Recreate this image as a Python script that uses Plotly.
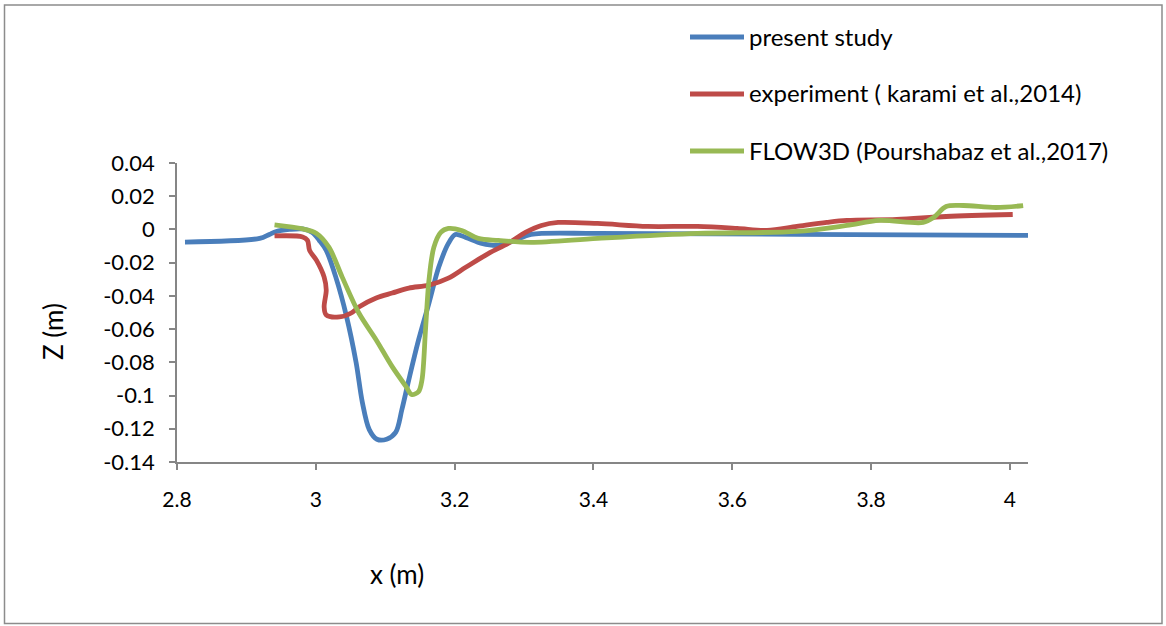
import plotly.graph_objects as go

# Bed profile along the channel: x (m) vs Z (m)
present_x = [2.8115, 2.919, 2.933, 2.943, 2.962, 2.981, 2.995, 3.005, 3.015, 3.029,
             3.044, 3.058, 3.067, 3.077, 3.088, 3.102, 3.115, 3.124, 3.134, 3.148,
             3.163, 3.177, 3.191, 3.201, 3.216, 3.239, 3.263, 3.287, 3.310, 3.406,
             3.693, 4.027]
present_z = [-0.0076, -0.0054, -0.0030, -0.0012, 0.0, 0.0003, -0.0018, -0.0066, -0.0126, -0.0290,
             -0.0520, -0.0800, -0.1040, -0.1205, -0.1263, -0.1263, -0.1222, -0.1084, -0.0904, -0.0665,
             -0.0443, -0.0228, -0.0084, -0.0030, -0.0048, -0.0084, -0.0096, -0.0066, -0.0030, -0.0024,
             -0.0030, -0.0036]

exp_x = [2.9405, 2.981, 2.988, 2.991, 3.001, 3.012, 3.015, 3.012, 3.015, 3.034,
         3.051, 3.062, 3.087, 3.110, 3.134, 3.163, 3.191, 3.216, 3.249, 3.277,
         3.302, 3.325, 3.349, 3.406, 3.478, 3.550, 3.607, 3.650, 3.693, 3.736,
         3.765, 3.837, 3.908, 4.004]
exp_z = [-0.0039, -0.0045, -0.0066, -0.0126, -0.0186, -0.0287, -0.0365, -0.0467, -0.0515, -0.0527,
         -0.0503, -0.0467, -0.0413, -0.0383, -0.0353, -0.0335, -0.0293, -0.0228, -0.0144, -0.0084,
         -0.0018, 0.0024, 0.0042, 0.0036, 0.0018, 0.0018, 0.0006, -0.0006, 0.0018, 0.0042,
         0.0054, 0.0060, 0.0078, 0.0090]

flow3d_x = [2.9405, 2.981, 3.001, 3.019, 3.038, 3.062, 3.087, 3.110, 3.130, 3.138,
            3.148, 3.153, 3.158, 3.163, 3.170, 3.180, 3.191, 3.210, 3.234, 3.263,
            3.310, 3.406, 3.550, 3.693, 3.765, 3.812, 3.875, 3.890, 3.908, 3.933,
            3.980, 4.019]
flow3d_z = [0.0027, 0.0003, -0.0024, -0.0108, -0.0287, -0.0503, -0.0665, -0.0826, -0.0946, -0.0994,
            -0.0976, -0.0904, -0.0605, -0.0305, -0.0108, -0.0018, 0.0006, -0.0006, -0.0054, -0.0066,
            -0.0078, -0.0054, -0.0024, -0.0012, 0.0024, 0.0054, 0.0042, 0.0072, 0.0138, 0.0144,
            0.0132, 0.0144]

series_names = ["present study", "experiment ( karami et al.,2014)", "FLOW3D (Pourshabaz et al.,2017)"]
series_colors = ["#4A7EBB", "#BE4B48", "#98B954"]

x_ticks = [2.8, 3.0, 3.2, 3.4, 3.6, 3.8, 4.0]
x_tick_text = ["2.8", "3", "3.2", "3.4", "3.6", "3.8", "4"]
y_ticks = [0.04, 0.02, 0.0, -0.02, -0.04, -0.06, -0.08, -0.10, -0.12, -0.14]
y_tick_text = ["0.04", "0.02", "0", "-0.02", "-0.04", "-0.06", "-0.08", "-0.1", "-0.12", "-0.14"]

FONT = "Lato"
W, H = 1166, 626
L, R, T, B = 177, 138, 163, 164
pw, ph = W - L - R, H - T - B


def px_to_paper_x(px):
    return (px - L) / pw


def px_to_paper_y(py):
    return (H - B - py) / ph


fig = go.Figure()
for xs, zs, name, color in zip([present_x, exp_x, flow3d_x],
                               [present_z, exp_z, flow3d_z],
                               series_names, series_colors):
    fig.add_trace(go.Scatter(
        x=xs, y=zs, mode="lines", name=name, showlegend=False,
        line=dict(color=color, width=4.8, shape="spline", smoothing=0.9),
        hoverinfo="skip",
    ))

shapes = []
annotations = []
# Legend entries drawn in the upper right
legend_rows = [37, 94, 151]
for name, color, ypx in zip(series_names, series_colors, legend_rows):
    shapes.append(dict(type="line", xref="paper", yref="paper",
                       x0=px_to_paper_x(690), x1=px_to_paper_x(744),
                       y0=px_to_paper_y(ypx), y1=px_to_paper_y(ypx),
                       line=dict(color=color, width=4.8)))
    annotations.append(dict(text=name, xref="paper", yref="paper",
                            x=px_to_paper_x(747), y=px_to_paper_y(ypx - 1),
                            xanchor="left", yanchor="middle", showarrow=False,
                            font=dict(family=FONT, size=24, color="#000000")))

# Chart border
shapes.append(dict(type="rect", xref="paper", yref="paper",
                   x0=px_to_paper_x(4.5), x1=px_to_paper_x(1162),
                   y0=px_to_paper_y(623.5), y1=px_to_paper_y(5),
                   line=dict(color="#8C8C8C", width=1.5), fillcolor="rgba(0,0,0,0)", layer="below"))

# Axis titles
annotations.append(dict(text="Z (m)", xref="paper", yref="paper",
                        x=px_to_paper_x(53), y=px_to_paper_y(331),
                        xanchor="center", yanchor="middle", textangle=-90, showarrow=False,
                        font=dict(family=FONT, size=26, color="#000000")))
annotations.append(dict(text="x (m)", xref="paper", yref="paper",
                        x=px_to_paper_x(397), y=px_to_paper_y(574),
                        xanchor="center", yanchor="middle", showarrow=False,
                        font=dict(family=FONT, size=26, color="#000000")))

axis_common = dict(showgrid=False, zeroline=False, showline=True, linecolor="#868686",
                   linewidth=1.5, ticks="outside", ticklen=6, tickcolor="#868686", tickwidth=1.5)

fig.update_layout(
    width=W, height=H,
    margin=dict(l=L, r=R, t=T, b=B, pad=0),
    paper_bgcolor="white", plot_bgcolor="white",
    showlegend=False,
    shapes=shapes, annotations=annotations,
    xaxis=dict(range=[2.8, 4.026], tickvals=x_ticks, ticktext=x_tick_text,
               ticklabelstandoff=12, tickfont=dict(family=FONT, size=21, color="#000000"),
               **axis_common),
    yaxis=dict(range=[-0.14, 0.04], tickvals=y_ticks, ticktext=y_tick_text,
               ticklabelstandoff=10, tickfont=dict(family=FONT, size=22, color="#000000"),
               **axis_common),
)

fig.write_html("out.html")
